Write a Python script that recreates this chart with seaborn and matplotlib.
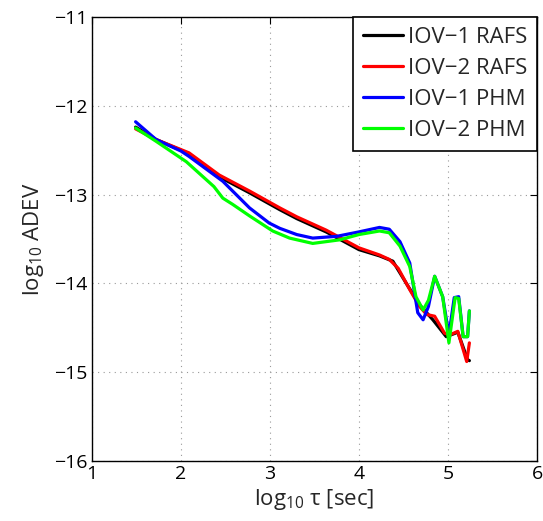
import matplotlib
matplotlib.use("Agg")
import matplotlib.pyplot as plt
import seaborn as sns
import pandas as pd

# Allan deviation curves, log10 tau [s] vs log10 ADEV
iov1_rafs_tau = [1.49, 1.72, 2.09, 2.43, 2.77, 3.11, 3.30, 3.63, 4.00, 4.23, 4.38, 4.55, 4.68, 4.83, 4.98, 5.11, 5.22, 5.24]
iov1_rafs_adev = [-12.24, -12.38, -12.54, -12.80, -12.98, -13.17, -13.27, -13.42, -13.62, -13.69, -13.75, -14.03, -14.24, -14.41, -14.60, -14.55, -14.86, -14.87]

iov2_rafs_tau = [1.49, 1.72, 2.09, 2.43, 2.77, 3.11, 3.30, 3.63, 4.00, 4.23, 4.34, 4.44, 4.57, 4.68, 4.76, 4.85, 4.96, 5.02, 5.11, 5.21, 5.24]
iov2_rafs_adev = [-12.26, -12.38, -12.53, -12.78, -12.96, -13.15, -13.25, -13.40, -13.60, -13.68, -13.73, -13.83, -14.07, -14.26, -14.35, -14.37, -14.56, -14.58, -14.54, -14.88, -14.67]

iov1_phm_tau = [1.49, 1.72, 2.00, 2.09, 2.47, 2.77, 2.99, 3.11, 3.30, 3.48, 3.75, 4.00, 4.23, 4.34, 4.46, 4.57, 4.66, 4.72, 4.78, 4.85, 4.94, 5.01, 5.07, 5.12, 5.17, 5.22, 5.24]
iov1_phm_adev = [-12.18, -12.38, -12.51, -12.57, -12.85, -13.15, -13.32, -13.38, -13.45, -13.49, -13.47, -13.42, -13.37, -13.39, -13.53, -13.77, -14.33, -14.41, -14.26, -13.92, -14.15, -14.58, -14.16, -14.15, -14.60, -14.60, -14.31]

iov2_phm_tau = [1.49, 1.72, 2.06, 2.37, 2.47, 2.58, 2.77, 3.03, 3.22, 3.48, 3.78, 4.00, 4.23, 4.34, 4.46, 4.57, 4.64, 4.72, 4.78, 4.85, 4.94, 5.01, 5.08, 5.12, 5.17, 5.22, 5.24]
iov2_phm_adev = [-12.25, -12.40, -12.63, -12.91, -13.04, -13.11, -13.24, -13.41, -13.49, -13.55, -13.51, -13.45, -13.41, -13.43, -13.58, -13.81, -14.15, -14.30, -14.19, -13.92, -14.15, -14.67, -14.16, -14.17, -14.60, -14.60, -14.31]

labels = ["IOV\u22121 RAFS", "IOV\u22122 RAFS", "IOV\u22121 PHM", "IOV\u22122 PHM"]
colors = ["#000000", "#ff0000", "#0000ff", "#00ff00"]

xticks = [1, 2, 3, 4, 5, 6]
yticks = [-16, -15, -14, -13, -12, -11]

series = [
    (iov1_rafs_tau, iov1_rafs_adev),
    (iov2_rafs_tau, iov2_rafs_adev),
    (iov1_phm_tau, iov1_phm_adev),
    (iov2_phm_tau, iov2_phm_adev),
]
frames = []
for name, (t, a) in zip(labels, series):
    frames.append(pd.DataFrame({"tau": t, "adev": a, "clock": name}))
df = pd.concat(frames, ignore_index=True)

sns.set_style("white")
plt.rcParams["font.family"] = ["Open Sans", "DejaVu Sans"]
plt.rcParams["mathtext.fontset"] = "custom"
plt.rcParams["mathtext.rm"] = "Open Sans"
plt.rcParams["mathtext.it"] = "Open Sans"
plt.rcParams["axes.unicode_minus"] = True

fig = plt.figure(figsize=(5.43, 5.21), dpi=100)
ax = fig.add_axes([0.1694, 0.1152, 0.8196, 0.8522])

sns.lineplot(data=df, x="tau", y="adev", hue="clock", palette=dict(zip(labels, colors)),
             hue_order=labels, sort=False, estimator=None, linewidth=2.3, ax=ax)

ax.set_xlim(1, 6)
ax.set_ylim(-16, -11)
ax.set_xticks(xticks)
ax.set_yticks(yticks)
ax.set_xticklabels([str(v) for v in xticks])
ax.set_yticklabels(["\u2212" + str(abs(v)) for v in yticks])
ax.tick_params(direction="in", length=5, width=0.8, labelsize=14, colors="black",
               top=True, right=True, pad=3)

ax.grid(True, linestyle=(0, (1, 4)), color="#999999", linewidth=0.8)
for s in ax.spines.values():
    s.set_color("black")
    s.set_linewidth(1.0)
    s.set_visible(True)

ax.set_xlabel("log$_{10}$ \u03c4 [sec]", fontsize=16, labelpad=3)
ax.set_ylabel("log$_{10}$ ADEV", fontsize=16, labelpad=6)

leg = ax.legend(loc="upper right", fontsize=16, frameon=True, fancybox=False,
                borderaxespad=0, handlelength=1.8, handletextpad=0.2,
                borderpad=0.45, labelspacing=0.45)
leg.get_frame().set_edgecolor("black")
leg.get_frame().set_linewidth(1.2)
leg.get_frame().set_alpha(1)
for line in leg.get_lines():
    line.set_linewidth(2.3)

fig.savefig("out.png", dpi=100)
